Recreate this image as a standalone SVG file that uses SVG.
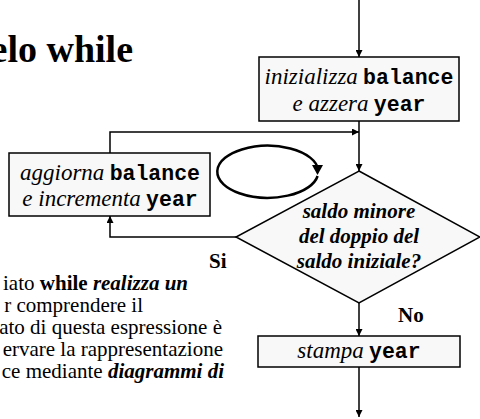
<svg xmlns="http://www.w3.org/2000/svg" width="480" height="419" viewBox="0 0 480 419">
<defs>
<style>
.box{fill:#f8f8f8;stroke:#000;stroke-width:1.5}
.ln{fill:none;stroke:#000;stroke-width:1.5}
.t{font-family:"Liberation Serif","Times New Roman","DejaVu Serif",serif;font-size:21px;fill:#000}
.it{font-family:"Liberation Serif","Times New Roman","DejaVu Serif",serif;font-style:italic;font-weight:normal;font-size:23px}
.bi{font-style:italic;font-weight:bold}
.b{font-weight:bold}
.m{font-family:"Liberation Mono","Courier New",monospace;font-weight:bold;font-size:21.5px}
</style>
<marker id="ah" viewBox="0 0 10 10" refX="10" refY="5" markerWidth="7" markerHeight="7" markerUnits="userSpaceOnUse" orient="auto">
<path d="M0,0 L10,5 L0,10 z" fill="#000"/>
</marker>
</defs>
<rect width="480" height="419" fill="#fff"/>
<text x="133" y="62" text-anchor="end" class="t b" style="font-size:38px">elo while</text>
<g id="paragraph" class="t">
<text x="188" y="290" text-anchor="end">iato <tspan class="b">while</tspan> <tspan class="bi">realizza un</tspan></text>
<text x="143" y="312" text-anchor="end">r comprendere il</text>
<text x="222" y="334" text-anchor="end">ato di questa espressione è</text>
<text x="223" y="356" text-anchor="end">ervare la rappresentazione</text>
<text x="224" y="378" text-anchor="end">ce mediante <tspan class="bi">diagrammi di</tspan></text>
</g>
<g id="connectors">
<line class="ln" x1="359" y1="0" x2="359" y2="57" marker-end="url(#ah)"/>
<line class="ln" x1="359" y1="121" x2="359" y2="171" marker-end="url(#ah)"/>
<polyline class="ln" points="110,153 110,132 359,132" marker-end="url(#ah)"/>
<polyline class="ln" points="236,237 110,237 110,216" marker-end="url(#ah)"/>
<line class="ln" x1="359" y1="303" x2="359" y2="336" marker-end="url(#ah)"/>
<line class="ln" x1="359" y1="367" x2="359" y2="417" marker-end="url(#ah)"/>
</g>
<g id="init">
<rect class="box" x="259" y="57" width="200" height="64"/>
<text class="t" x="359" y="84" text-anchor="middle"><tspan class="it">inizializza</tspan> <tspan class="m">balance</tspan></text>
<text class="t" x="359" y="111" text-anchor="middle"><tspan class="it">e azzera</tspan> <tspan class="m">year</tspan></text>
</g>
<g id="update">
<rect class="box" x="9" y="153" width="201" height="63"/>
<text class="t" x="110" y="180" text-anchor="middle"><tspan class="it">aggiorna</tspan> <tspan class="m">balance</tspan></text>
<text class="t" x="110" y="206" text-anchor="middle"><tspan class="it">e incrementa</tspan> <tspan class="m">year</tspan></text>
</g>
<g id="loop-symbol">
<path d="M317.6,176 A50.5,26 0 1 1 318,169" fill="none" stroke="#000" stroke-width="2.5"/>
<path d="M312,165 L323,165 L317.5,175 z" fill="#000"/>
</g>
<g id="decision">
<polygon class="box" points="359,171 480,237 359,303 236,237"/>
<text class="t bi" x="359" y="218" text-anchor="middle">saldo minore</text>
<text class="t bi" x="359" y="243" text-anchor="middle">del doppio del</text>
<text class="t bi" x="359" y="268" text-anchor="middle">saldo iniziale?</text>
</g>
<text class="t b" x="209" y="268">Si</text>
<text class="t b" x="398" y="322">No</text>
<g id="print">
<rect class="box" x="258" y="336" width="202" height="31"/>
<text class="t" x="359" y="358" text-anchor="middle"><tspan class="it">stampa</tspan> <tspan class="m">year</tspan></text>
</g>
</svg>
